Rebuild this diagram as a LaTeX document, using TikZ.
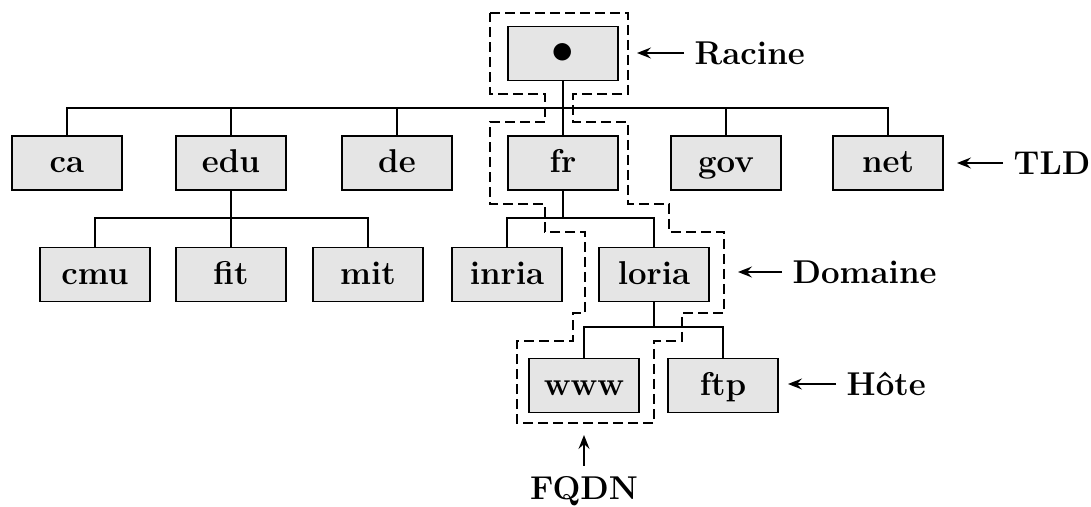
\documentclass[tikz,border=0pt]{standalone}
\usetikzlibrary{arrows.meta}
\tikzset{
  dom/.style={draw, line width=0.7pt, fill=black!10, minimum width=55pt, minimum height=27pt,
    inner sep=0pt, text height=11.5pt, text depth=1.5pt, font=\fontsize{16.5}{19}\selectfont\bfseries},
  lbl/.style={inner sep=5pt, text height=11.5pt, text depth=0pt, font=\fontsize{16.5}{19}\selectfont\bfseries},
  pointer/.style={-{Stealth[length=7pt,width=5.5pt,inset=2.5pt]}, line width=0.7pt},
  zone/.style={line width=0.7pt, dash pattern=on 5pt off 2.5pt}
}
\begin{document}
\begin{tikzpicture}[x=0.5pt,y=-0.5pt,line width=0.7pt]
      \useasboundingbox (0,0) rectangle (1091,507);
      \draw
        (563,53.5) node[dom] (root){\scalebox{1.3}{$\bullet$}}
        (67,163) node[dom] (ca){ca}
        (231,163) node[dom] (edu){edu}
        (397,163) node[dom] (de){de}
        (563,163) node[dom] (fr){fr}
        (726,163) node[dom] (gov){gov}
        (888,163) node[dom] (net){net}
        (95,274.5) node[dom] (cmu){cmu}
        (231,274.5) node[dom] (fit){fit}
        (368,274.5) node[dom] (mit){mit}
        (507,274.5) node[dom] (inria){inria}
        (654,274.5) node[dom] (loria){loria}
        (584,385.5) node[dom] (www){www}
        (723,385.5) node[dom] (ftp){ftp};
      % bus levels
      \coordinate (tld) at (0,108);
      \coordinate (sld) at (0,218);
      \coordinate (hst) at (0,327);
      \begin{scope}[-]
        \draw (root) -- (root |- tld);
        \draw (ca.north) -- (ca.north |- tld) -- (net.north |- tld) -- (net.north);
        \foreach \n in {edu,de,fr,gov}
          \draw (\n.north) -- (\n.north |- tld);
        \draw (edu) -- (fit);
        \draw (cmu.north) -- (cmu.north |- sld) -- (mit.north |- sld) -- (mit.north);
        \draw (fr) -- (fr |- sld);
        \draw (inria.north) -- (inria.north |- sld) -- (loria.north |- sld) -- (loria.north);
        \draw (loria) -- (loria |- hst);
        \draw (www.north) -- (www.north |- hst) -- (ftp.north |- hst) -- (ftp.north);
      \end{scope}
      % FQDN zone
      \draw[zone] (490,13) -- (628,13) -- (628,94) -- (573,94) -- (573,122) -- (628,122)
        -- (628,204) -- (669,204) -- (669,232) -- (724,232) -- (724,313) -- (682,313)
        -- (682,341) -- (654,341) -- (654,423) -- (517,423) -- (517,341) -- (573,341)
        -- (573,313) -- (585,313) -- (585,232) -- (545,232) -- (545,204) -- (490,204)
        -- (490,122) -- (545,122) -- (545,94) -- (490,94) -- cycle;
      % labels
      \node[lbl, anchor=west] (racine) at (684,53) {Racine};
      \node[lbl, anchor=west] (tldlbl) at (1003,163) {TLD};
      \node[lbl, anchor=west] (domaine) at (782,272) {Domaine};
      \node[lbl, anchor=west] (hote) at (836,384) {Hôte};
      \node[lbl] (fqdn) at (584,488) {FQDN};
      \coordinate (racinetip) at (637,53);
      \coordinate (tldtip) at (957,163);
      \coordinate (domainetip) at (738,272);
      \coordinate (hotetip) at (788,384);
      \coordinate (fqdntip) at (584,435);
      \draw[pointer] (racine) -- (racinetip);
      \draw[pointer] (tldlbl) -- (tldtip);
      \draw[pointer] (domaine) -- (domainetip);
      \draw[pointer] (hote) -- (hotetip);
      \draw[pointer] (fqdn) -- (fqdntip);
    \end{tikzpicture}
\end{document}
